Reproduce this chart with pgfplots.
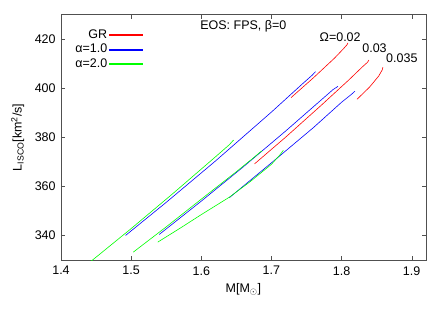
\documentclass[border=0pt]{standalone}
\usepackage{pgfplots}
\pgfplotsset{compat=1.18}
\usepackage{fontspec}
\setmainfont{Liberation Sans}
\definecolor{axgray}{RGB}{80,80,80}
\begin{document}
\fontsize{12.5}{15}\selectfont
\begin{tikzpicture}
\begin{axis}[name=ax, scale only axis, width=364.7pt, height=245.3pt,
 xmin=1.4, xmax=1.92, ymin=330, ymax=430,
 xtick={1.4,1.5,1.6,1.7,1.8,1.9}, ytick={340,360,380,400,420},
 tick align=inside, major tick length=4pt,
 axis line style={axgray}, tick style={axgray},
 /pgf/number format/assume math mode=true,
 xticklabel style={yshift=-2pt, /pgf/number format/.cd, fixed, fixed zerofill, precision=1},
 yticklabel style={xshift=-1pt},
 xlabel={M[M\textsubscript{$\odot$}]}, ylabel={L\textsubscript{ISCO}[km\textsuperscript{2}/s]},
 ylabel style={yshift=2pt},
 legend style={at={(0.025,0.957)}, anchor=north west, draw=none, fill=none, row sep=0pt, font=\fontsize{12.5}{14}\selectfont},
 legend cell align=right, legend plot pos=right,
 legend image code/.code={\fill[#1] (0pt,-0.55pt) rectangle (33pt,0.55pt);},
 every axis plot/.append style={line width=0.6pt}]
% GR
\addplot[color=red] coordinates {(1.728,396.2) (1.76,404.3) (1.79,412.3) (1.803,416.2) (1.808,417.8) (1.809,418.5)};
\addlegendentry{GR}
% alpha=1
\addplot[color=blue] coordinates {(1.492,340) (1.55,353.5) (1.62,370.3) (1.70,390.3) (1.745,402) (1.758,405.3) (1.763,406.8)};
\addlegendentry{α=1.0}
% alpha=2
\addplot[color=green] coordinates {(1.43,326.5) (1.50,342.8) (1.56,357.2) (1.62,372) (1.640,377) (1.646,378.9)};
\addlegendentry{α=2.0}
\addplot[color=red, forget plot] coordinates {(1.676,369.2) (1.72,380) (1.77,392.8) (1.81,403.3) (1.83,408.8) (1.837,410.6) (1.839,411.5)};
\addplot[color=red, forget plot] coordinates {(1.822,395.5) (1.84,400.5) (1.853,405) (1.858,407.5) (1.859,408.6)};
\addplot[color=blue, forget plot] coordinates {(1.54,340.4) (1.60,354) (1.66,368) (1.72,382.5) (1.77,395) (1.788,399.5) (1.795,400.8)};
\addplot[color=blue, forget plot] coordinates {(1.64,355.4) (1.70,369.6) (1.76,384) (1.80,394.3) (1.814,397.5) (1.819,398.8)};
\addplot[color=green, forget plot] coordinates {(1.503,333.2) (1.55,343.5) (1.60,354.8) (1.65,366) (1.675,371.8) (1.684,374) (1.687,374.5)};
\addplot[color=green, forget plot] coordinates {(1.538,337.3) (1.57,343) (1.60,348.5) (1.64,355.6) (1.67,362) (1.70,369) (1.712,372.8) (1.717,374.7)};
\node at (axis cs:1.66,425.1) {EOS: FPS, β=0};
\node at (axis cs:1.798,421) {Ω=0.02};
\node at (axis cs:1.847,416.3) {0.03};
\node at (axis cs:1.886,412.2) {0.035};
\end{axis}
\pgfresetboundingbox
\path ([xshift=-61pt,yshift=-53pt]ax.south west) rectangle ([xshift=22.3pt,yshift=14.7pt]ax.north east);
\end{tikzpicture}
\end{document}
